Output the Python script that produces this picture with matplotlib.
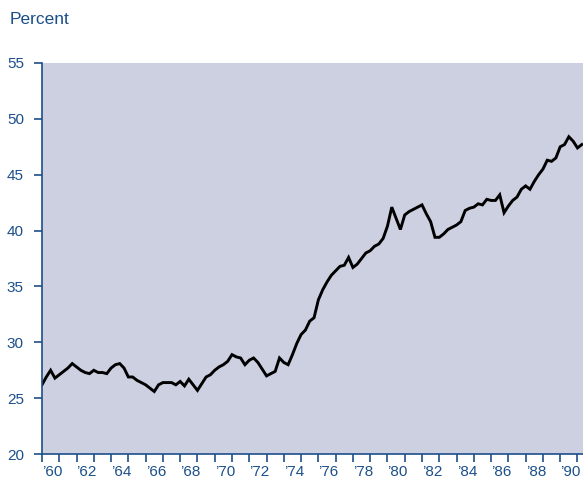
import numpy as np
import matplotlib
matplotlib.use("Agg")
import matplotlib.pyplot as plt

plt.rcParams['font.family'] = ['Liberation Sans', 'DejaVu Sans']

# quarterly observations, 1960 Q1 .. 1991 Q2
quarters = np.arange(1960, 1991.26, 0.25)
percent = [
    26.2, 26.9, 27.5, 26.8,   # 1960
    27.1, 27.4, 27.7, 28.1,   # 1961
    27.8, 27.5, 27.3, 27.2,   # 1962
    27.5, 27.3, 27.3, 27.2,   # 1963
    27.7, 28.0, 28.1, 27.7,   # 1964
    26.9, 26.9, 26.6, 26.4,   # 1965
    26.2, 25.9, 25.6, 26.2,   # 1966
    26.4, 26.4, 26.4, 26.2,   # 1967
    26.5, 26.1, 26.7, 26.2,   # 1968
    25.7, 26.3, 26.9, 27.1,   # 1969
    27.5, 27.8, 28.0, 28.3,   # 1970
    28.9, 28.7, 28.6, 28.0,   # 1971
    28.4, 28.6, 28.2, 27.6,   # 1972
    27.0, 27.2, 27.4, 28.6,   # 1973
    28.2, 28.0, 28.9, 29.9,   # 1974
    30.7, 31.1, 31.9, 32.2,   # 1975
    33.8, 34.7, 35.4, 36.0,   # 1976
    36.4, 36.8, 36.9, 37.6,   # 1977
    36.7, 37.0, 37.5, 38.0,   # 1978
    38.2, 38.6, 38.8, 39.3,   # 1979
    40.4, 42.1, 41.1, 40.1,   # 1980
    41.4, 41.7, 41.9, 42.1,   # 1981
    42.3, 41.5, 40.8, 39.4,   # 1982
    39.4, 39.7, 40.1, 40.3,   # 1983
    40.5, 40.8, 41.8, 42.0,   # 1984
    42.1, 42.4, 42.3, 42.8,   # 1985
    42.7, 42.7, 43.2, 41.6,   # 1986
    42.2, 42.7, 43.0, 43.7,   # 1987
    44.0, 43.7, 44.4, 45.0,   # 1988
    45.5, 46.3, 46.2, 46.5,   # 1989
    47.5, 47.7, 48.4, 48.0,   # 1990
    47.4, 47.7,               # 1991
]

year_ticks = list(range(1960, 1992))
year_labels = ["’%02d" % (y % 100) if y % 2 == 0 else "" for y in year_ticks]
y_ticks = [20, 25, 30, 35, 40, 45, 50, 55]

blue = "#1b4f8a"
bg = "#cdd0e0"

fig = plt.figure(figsize=(5.83, 4.79), dpi=100)
ax = fig.add_axes([0.072, 0.052, 0.928, 0.8165])
ax.set_facecolor(bg)

ax.plot(quarters, percent, color="black", linewidth=2.1, solid_joinstyle="miter")

ax.set_xlim(1960, 1991.32)
ax.set_ylim(20, 55)
ax.set_yticks(y_ticks)
ax.set_xticks(year_ticks)
ax.set_xticklabels(year_labels, ha="left")

for s in ["top", "right"]:
    ax.spines[s].set_visible(False)
for s in ["left", "bottom"]:
    ax.spines[s].set_color(blue)
    ax.spines[s].set_linewidth(1.2)

ax.tick_params(axis="both", colors=blue, labelcolor=blue, labelsize=11,
               length=6, width=1.2, direction="out")
ax.tick_params(axis="y", pad=7)
ax.tick_params(axis="x", pad=1.5)

fig.text(0.017, 0.96, "Percent", color=blue, fontsize=12.5, va="center", ha="left")

fig.savefig("out.png", dpi=100)
